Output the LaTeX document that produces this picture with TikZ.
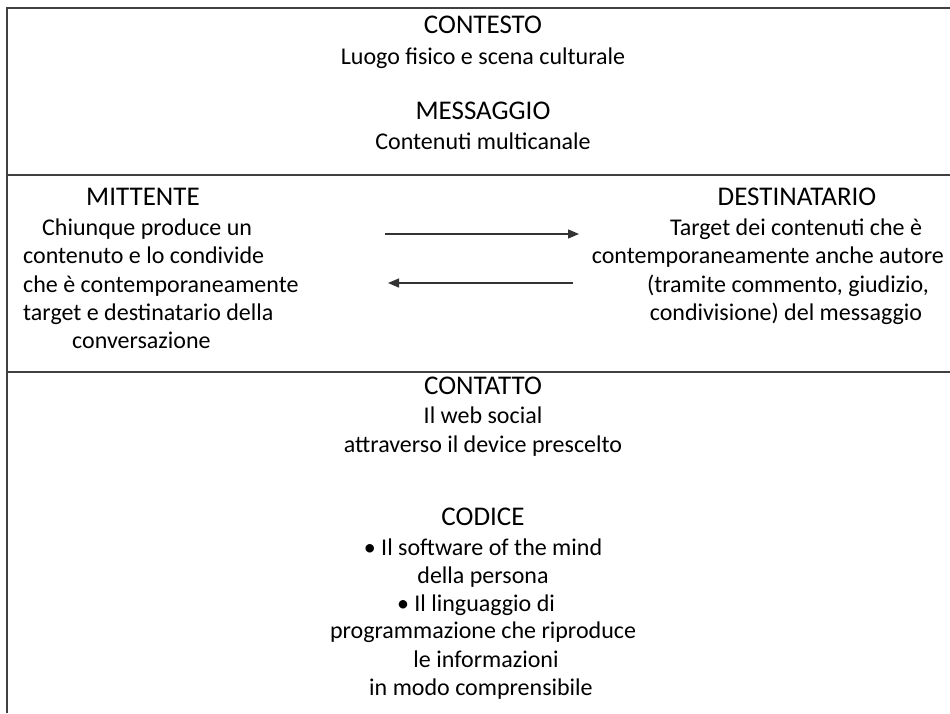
\documentclass[tikz,border=0pt]{standalone}
\usepackage{fontspec}
\setmainfont{Carlito}
\usetikzlibrary{arrows.meta}

\tikzset{
  titolo/.style={inner sep=0pt, anchor=base, font=\fontsize{27}{32}\selectfont},
  testo/.style={inner sep=0pt, anchor=base, font=\fontsize{24}{29}\selectfont},
  testosx/.style={testo, anchor=base west},
  riga/.style={draw=black!75, line width=1.3pt},
  freccia/.style={draw=black!80, line width=1.3pt, -{Triangle[length=11pt,width=9pt]}}
}

\begin{document}
\begin{tikzpicture}[x=1pt,y=-1pt]
\useasboundingbox (0,0) rectangle (950,713);

% cornice
\draw[riga] (7,713) -- (7,8) -- (952,8);
\draw[riga] (7,175) -- (952,175);
\draw[riga] (7,372) -- (952,372);

% contesto e messaggio
\node[titolo] (contesto) at (483,33) {CONTESTO};
\node[testo] (luogo) at (483,64) {Luogo fisico e scena culturale};
\node[titolo] (messaggio) at (483,119) {MESSAGGIO};
\node[testo] (contenuti) at (483,149) {Contenuti multicanale};

% mittente
\node[titolo] (mittente) at (143,205) {MITTENTE};
\node[testosx] (mit1) at (42,235) {Chiunque produce un};
\node[testosx] (mit2) at (23,263) {contenuto e lo condivide};
\node[testosx] (mit3) at (23,292) {che è contemporaneamente};
\node[testosx] (mit4) at (23,320) {target e destinatario della};
\node[testosx] (mit5) at (72,348) {conversazione};

% destinatario
\node[titolo] (destinatario) at (797,205) {DESTINATARIO};
\node[testo] (dest1) at (796,235) {Target dei contenuti che è};
\node[testo, anchor=base east] (dest2) at (944,263) {contemporaneamente anche autore};
\node[testo] (dest3) at (788,292) {(tramite commento, giudizio,};
\node[testo] (dest4) at (786,320) {condivisione) del messaggio};

% frecce
\coordinate (andata0) at (385,234);
\coordinate (andata1) at (579,234);
\coordinate (ritorno0) at (573,283);
\coordinate (ritorno1) at (388,283);
\draw[freccia] (andata0) -- (andata1);
\draw[freccia] (ritorno0) -- (ritorno1);

% contatto e codice
\node[titolo] (contatto) at (483,394) {CONTATTO};
\node[testo] (web) at (483,423) {Il web social};
\node[testo] (device) at (483,452) {attraverso il device prescelto};
\node[titolo] (codice) at (483,525) {CODICE};
\node[testo] (cod1) at (483,555) {• Il software of the mind};
\node[testo] (cod2) at (483,583) {della persona};
\node[testo] (cod3) at (476,611) {• Il linguaggio di};
\node[testo] (cod4) at (483,638) {programmazione che riproduce};
\node[testo] (cod5) at (486,667) {le informazioni};
\node[testo] (cod6) at (481,695) {in modo comprensibile};

\end{tikzpicture}
\end{document}
